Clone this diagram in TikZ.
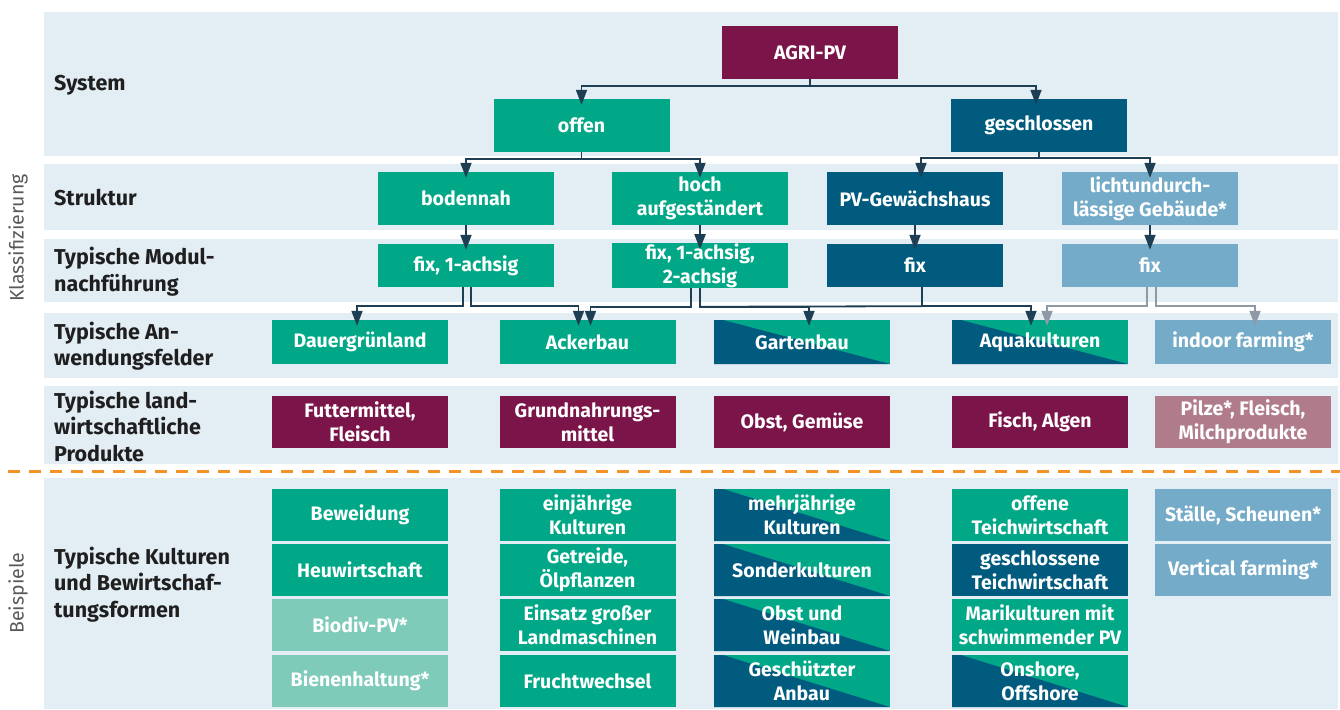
\documentclass[tikz,border=0pt]{standalone}
\usepackage{fontspec}
\setmainfont{Fira Sans}
\usetikzlibrary{arrows.meta,calc}
\definecolor{cgreen}{HTML}{00A887}
\definecolor{cdark}{HTML}{005B7F}
\definecolor{clight}{HTML}{74ABC8}
\definecolor{cpurple}{HTML}{7A1449}
\definecolor{cmauve}{HTML}{B07B8B}
\definecolor{clgreen}{HTML}{7DCBB8}
\definecolor{cband}{HTML}{E2EDF4}
\definecolor{carrow}{HTML}{1D3E53}
\definecolor{cgray}{HTML}{8E99A4}
\definecolor{corange}{HTML}{F39325}
\begin{document}
\begin{tikzpicture}[x=1pt,y=-1pt,
  box/.style={inner sep=0pt, minimum width=176pt, text=white, align=center,
    font=\bfseries\fontsize{19.5}{24}\selectfont},
  bgreen/.style={box, fill=cgreen},
  bdark/.style={box, fill=cdark},
  blight/.style={box, fill=clight},
  bpurple/.style={box, fill=cpurple},
  bmauve/.style={box, fill=cmauve},
  blgreen/.style={box, fill=clgreen},
  bsplit/.style={box, path picture={
    \fill[cgreen] (path picture bounding box.north west) rectangle (path picture bounding box.south east);
    \fill[cdark] ([xshift=9pt]path picture bounding box.north west) -- (path picture bounding box.south east)
      -- (path picture bounding box.south west) -- (path picture bounding box.north west) -- cycle;}},
  hA/.style={minimum height=53pt},
  hB/.style={minimum height=43pt},
  hC/.style={minimum height=44pt},
  hD/.style={minimum height=52pt},
  lbl/.style={anchor=west, align=left, inner sep=0pt, text=black!88, font=\bfseries\fontsize{21.5}{26.5}\selectfont},
  side/.style={rotate=90, text=black!65, font=\fontsize{19.5}{22}\selectfont},
  arr/.style={draw=carrow, line width=1.8pt, -{Triangle[length=15pt,width=11pt]}},
  garr/.style={arr, draw=cgray},
  ln/.style={draw=carrow, line width=1.8pt}
]
\useasboundingbox (0,0) rectangle (1340,709);
% bands
\fill[cband] (44,12) rectangle (1338,156);
\fill[cband] (44,164) rectangle (1338,230);
\fill[cband] (44,239) rectangle (1338,302);
\fill[cband] (44,313) rectangle (1338,378);
\fill[cband] (44,386) rectangle (1338,464);
\fill[cband] (44,478) rectangle (1338,709);
\draw[corange, line width=3pt, dash pattern=on 12pt off 9pt] (8,471) -- (1340,471);

% side labels
\node[side] (klass) at (18,238) {Klassifizierung};
\node[side] (beisp) at (18,593) {Beispiele};

% row labels
\node[lbl] (l1) at (54,85) {System};
\node[lbl] (l2) at (54,198) {Struktur};
\node[lbl] (l3) at (54,271.5) {Typische Modul-\\nachführung};
\node[lbl] (l4) at (54,346) {Typische An-\\wendungsfelder};
\node[lbl] (l5) at (54,426) {Typische land-\\wirtschaftliche\\Produkte};
\node[lbl] (l6) at (54,584.5) {Typische Kulturen\\und Bewirtschaf-\\tungsformen};

% row 1
\node[bpurple,hA] (agri) at (810,52.5) {AGRI-PV};
\node[bgreen,hA] (offen) at (581.5,125.5) {offen};
\node[bdark,hA] (gesch) at (1039,125.5) {geschlossen};
% row 2
\node[bgreen,hA] (boden) at (466,198.5) {bodennah};
\node[bgreen,hA] (hoch) at (700,198.5) {hoch\\aufgeständert};
\node[bdark,hA] (pvg) at (915,198.5) {PV-Gewächshaus};
\node[blight,hA] (licht) at (1150,198.5) {lichtundurch-\\lässige Gebäude*};
% row 3
\node[bgreen,hB] (fix1) at (466,265.5) {fix, 1-achsig};
\node[bgreen,hB] (fix2) at (700,265.5) {fix, 1-achsig,\\2-achsig};
\node[bdark,hB] (fix3) at (915,265.5) {fix};
\node[blight,hB] (fix4) at (1150,265.5) {fix};
% row 4
\node[bgreen,hC] (dauer) at (360,342) {Dauergrünland};
\node[bgreen,hC] (acker) at (587.5,342) {Ackerbau};
\node[bsplit,hC] (garten) at (802,342) {Gartenbau};
\node[bsplit,hC] (aqua) at (1040,342) {Aquakulturen};
\node[blight,hC] (indoor) at (1243,342) {indoor farming*};
% row 5
\node[bpurple,hD] (futter) at (360,422) {Futtermittel,\\Fleisch};
\node[bpurple,hD] (grund) at (587.5,422) {Grundnahrungs-\\mittel};
\node[bpurple,hD] (obst) at (802,422) {Obst, Gemüse};
\node[bpurple,hD] (fisch) at (1040,422) {Fisch, Algen};
\node[bmauve,hD] (pilze) at (1243,422) {Pilze*, Fleisch,\\Milchprodukte};
% row 6
\node[bgreen,hD] (c11) at (360,515) {Beweidung};
\node[bgreen,hD] (c12) at (360,570) {Heuwirtschaft};
\node[blgreen,hD] (c13) at (360,625) {Biodiv-PV*};
\node[blgreen,hD] (c14) at (360,681) {Bienenhaltung*};
\node[bgreen,hD] (c21) at (587.5,515) {einjährige\\Kulturen};
\node[bgreen,hD] (c22) at (587.5,570) {Getreide,\\Ölpflanzen};
\node[bgreen,hD] (c23) at (587.5,625) {Einsatz großer\\Landmaschinen};
\node[bgreen,hD] (c24) at (587.5,681) {Fruchtwechsel};
\node[bsplit,hD] (c31) at (802,515) {mehrjährige\\Kulturen};
\node[bsplit,hD] (c32) at (802,570) {Sonderkulturen};
\node[bsplit,hD] (c33) at (802,625) {Obst und\\Weinbau};
\node[bsplit,hD] (c34) at (802,681) {Geschützter\\Anbau};
\node[bgreen,hD] (c41) at (1040,515) {offene\\Teichwirtschaft};
\node[bdark,hD] (c42) at (1040,570) {geschlossene\\Teichwirtschaft};
\node[bgreen,hD] (c43) at (1040,625) {Marikulturen mit\\schwimmender PV};
\node[bsplit,hD] (c44) at (1040,681) {Onshore,\\Offshore};
\node[blight,hD] (c51) at (1243,515) {Ställe, Scheunen*};
\node[blight,hD] (c52) at (1243,570) {Vertical farming*};

% connectors
\draw[arr] (agri.south) -- ++(0,7) -| ($(offen.north)+(0,6)$);
\draw[arr] (agri.south) -- ++(0,7) -| ($(gesch.north)+(-3,6)$);
\draw[arr] (offen.south) -- ++(0,7) -| ($(boden.north)+(0,6)$);
\draw[arr] (offen.south) -- ++(0,7) -| ($(hoch.north)+(0,6)$);
\draw[arr] (gesch.south) -- ++(0,6) -| ($(pvg.north)+(6,6)$);
\draw[arr] (gesch.south) -- ++(0,6) -| ($(licht.north)+(0,6)$);
\draw[arr] (boden.south) -- ($(fix1.north)+(0,6)$);
\draw[arr] (hoch.south) -- ($(fix2.north)+(0,6)$);
\draw[arr] (pvg.south) -- ($(fix3.north)+(0,6)$);
\draw[arr] (licht.south) -- ($(fix4.north)+(0,6)$);

\draw[arr] ($(fix1.south)+(-3,0)$) -- ++(0,19) -| ($(dauer.north)+(-3,6)$);
\draw[arr] ($(fix1.south)+(5,0)$) -- ++(0,19) -| ($(acker.north)+(-9,6)$);
\draw[arr] ($(fix2.south)+(-9,0)$) -- ++(0,19) -| ($(acker.north)+(3,6)$);
\draw[arr] (fix2.south) -- ++(0,19) -| ($(garten.north)+(7,6)$);
\draw[ln] ($(fix2.south)+(0,19)$) -- ($(fix3.south)+(7,19)$);
\draw[arr] ($(fix3.south)+(7,0)$) -- ++(0,19) -| ($(aqua.north)+(-9,6)$);
\draw[garr] ($(fix4.south)+(-3,0)$) -- ++(0,19) -| ($(aqua.north)+(7,6)$);
\draw[garr] ($(fix4.south)+(6,0)$) -- ++(0,19) -| ($(indoor.north)+(12,6)$);
\end{tikzpicture}
\end{document}
